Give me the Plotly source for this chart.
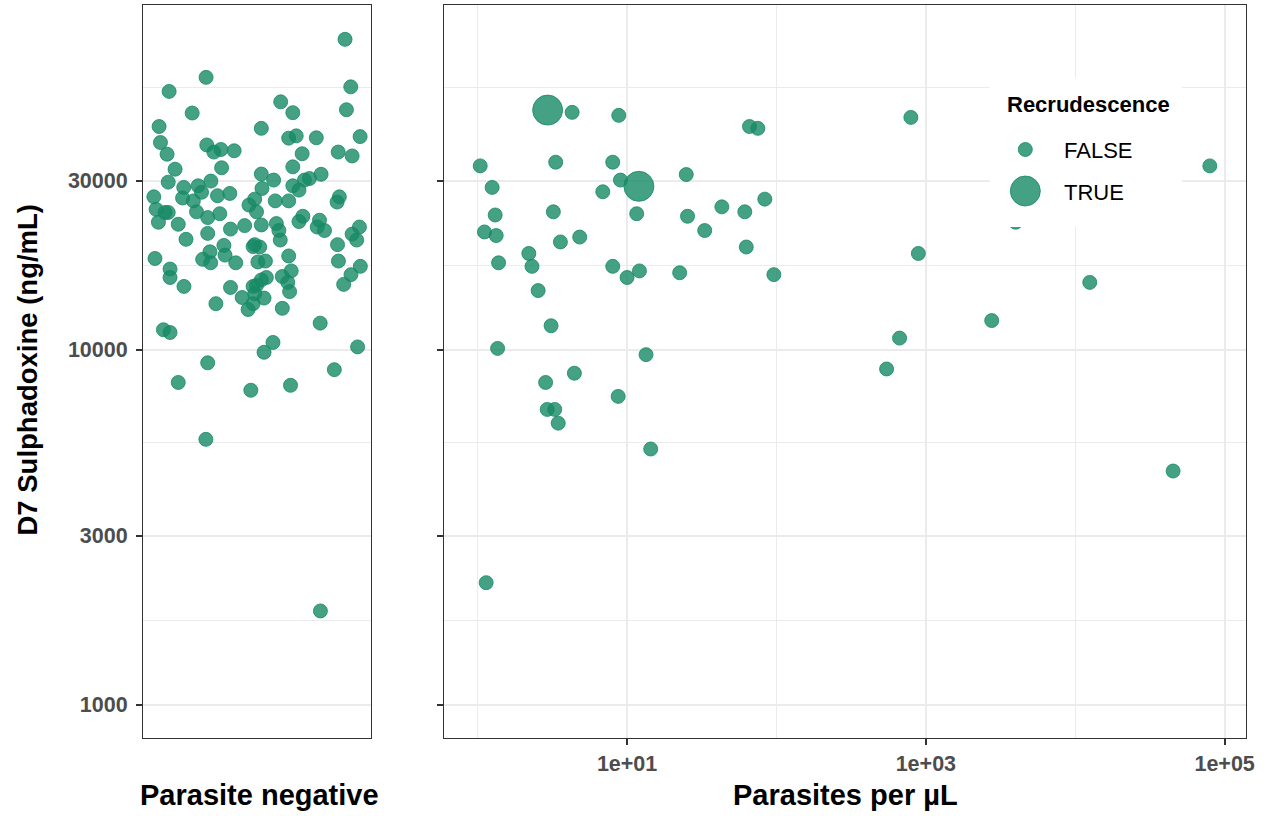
import math
import plotly.graph_objects as go

# ---------------- data ----------------
# Left panel: parasite-negative patients (horizontal jitter within category, D7 sulphadoxine ng/mL)
neg_jitter = [0.885, 0.276, 0.910, 0.114, 0.603, 0.656, 0.891, 0.215, 0.070, 0.518,
              0.638, 0.671, 0.759, 0.951, 0.076, 0.279, 0.310, 0.341, 0.399, 0.697,
              0.855, 0.916, 0.105, 0.140, 0.344, 0.656, 0.518, 0.572, 0.780, 0.729,
              0.707, 0.297, 0.110, 0.178, 0.241, 0.256, 0.380, 0.521, 0.656, 0.683,
              0.173, 0.220, 0.326, 0.047, 0.057, 0.096, 0.110, 0.234, 0.283, 0.336,
              0.067, 0.154, 0.489, 0.464, 0.497, 0.579, 0.638, 0.860, 0.850, 0.700,
              0.683, 0.773, 0.763, 0.795, 0.584, 0.595, 0.601, 0.518, 0.445, 0.383,
              0.283, 0.188, 0.948, 0.916, 0.936, 0.852, 0.489, 0.511, 0.482, 0.354,
              0.359, 0.293, 0.261, 0.296, 0.406, 0.638, 0.052, 0.503, 0.536, 0.856,
              0.952, 0.118, 0.118, 0.649, 0.610, 0.634, 0.642, 0.911, 0.879, 0.179,
              0.383, 0.540, 0.518, 0.497, 0.482, 0.489, 0.530, 0.434, 0.319, 0.482,
              0.460, 0.610, 0.776, 0.089, 0.118, 0.569, 0.530, 0.940, 0.283, 0.838,
              0.154, 0.472, 0.646, 0.275, 0.777]
neg_conc = [75000, 58600, 55100, 53500, 50000, 46600, 47500, 46500, 42600, 42100,
            39500, 40100, 39600, 39900, 38400, 37800, 36100, 36700, 36400, 35700,
            36100, 35200, 35600, 32300, 32600, 32800, 31300, 30100, 31250, 30400,
            30100, 29900, 29700, 28700, 29000, 27800, 27600, 28500, 29000, 28200,
            26800, 26300, 27200, 27000, 24900, 24400, 24400, 24500, 23600, 24200,
            22900, 22600, 26600, 25600, 24500, 26300, 26300, 27000, 26100, 23800,
            23000, 23200, 22200, 21700, 22700, 21700, 20400, 22500, 22400, 21900,
            21300, 20500, 22200, 21200, 20400, 19800, 19800, 19500, 19550, 19700,
            18500, 18900, 18000, 17600, 17600, 18400, 18100, 17700, 17800, 17800,
            17200, 16900, 16000, 16700, 16100, 15500, 14600, 16300, 15300, 15100,
            15000, 16000, 15750, 15200, 15100, 14400, 14000, 14050, 13500, 13500,
            13000, 13100, 11900, 11400, 11200, 10500, 9850, 10200, 9200, 8800,
            8100, 7700, 7950, 5600, 1840]

# Right panel: parasite-positive patients
pos_parasites_false = [4.29, 8.80, 1.04, 3.33, 8.02, 9.03, 24.9, 1.25, 6.88, 1.31,
                       3.21, 11.6, 25.4, 33.1, 1.11, 1.33, 3.58, 4.82, 2.20, 2.31,
                       1.38, 8.02, 10.0, 12.1, 22.5, 2.54, 3.10, 1.36, 13.4, 4.44,
                       2.85, 8.72, 2.92, 3.28, 3.46, 14.4, 1.14, 66.0, 75.1, 794,
                       83.6, 43.1, 61.4, 62.8, 96.1, 891, 3990, 12510, 2760, 667,
                       546, 45190, 79600]
pos_conc_false = [46700, 45800, 33000, 33800, 33800, 30100, 31200, 28700, 27900, 24000,
                  24500, 24200, 23800, 21700, 21500, 21000, 20150, 20800, 18700, 17200,
                  17600, 17200, 16000, 16700, 16500, 14700, 11700, 10100, 9700, 8600,
                  8100, 7400, 6800, 6800, 6220, 5260, 2210, 42600, 42100, 45200,
                  26600, 25300, 24500, 19500, 16300, 18700, 22900, 15500, 12100, 10800,
                  8840, 4560, 33000]
pos_parasites_true = [2.94, 12.0]
pos_conc_true = [47400, 28900]

y_breaks = [1000, 3000, 10000, 30000]
y_labels = ["1000", "3000", "10000", "30000"]
y_next_break = 100000
x_breaks = [10, 1000, 100000]
x_labels = ["1e+01", "1e+03", "1e+05"]
x_minor = [1, 100, 10000]
legend_title = "Recrudescence"
legend_labels = ["FALSE", "TRUE"]

# ---------------- styling ----------------
W, H = 1268, 816
W_EFF = 1258  # horizontal pixel frame used for placement
PT = "rgba(22,138,101,0.8)"
SIZE_FALSE, SIZE_TRUE = 14, 30
GRID = "#EBEBEB"
AXCOL = "#333333"
FAM = "Liberation Sans, Arial"
TICKFONT = dict(family=FAM, size=21.5, color="#4D4D4D", weight="bold")

def fx(p):
    return p / W_EFF

def fy(p):
    return 1 - p / H

ext = y_breaks + [y_next_break]
y_minor = [math.sqrt(a * b) for a, b in zip(ext[:-1], ext[1:])]

fig = go.Figure()
fig.add_trace(go.Scatter(
    x=neg_jitter, y=neg_conc, mode="markers", xaxis="x", yaxis="y",
    marker=dict(size=SIZE_FALSE, color=PT, line=dict(width=1, color=PT)),
    showlegend=False, hoverinfo="skip"))
fig.add_trace(go.Scatter(
    x=pos_parasites_false, y=pos_conc_false, mode="markers", xaxis="x2", yaxis="y2",
    marker=dict(size=SIZE_FALSE, color=PT, line=dict(width=1, color=PT)),
    showlegend=False, hoverinfo="skip"))
fig.add_trace(go.Scatter(
    x=pos_parasites_true, y=pos_conc_true, mode="markers", xaxis="x2", yaxis="y2",
    marker=dict(size=SIZE_TRUE, color=PT, line=dict(width=1, color=PT)),
    showlegend=False, hoverinfo="skip"))

yr = [math.log10(807), math.log10(93700)]
common_y = dict(type="log", range=yr, tickmode="array", tickvals=y_breaks,
                showgrid=True, gridcolor=GRID, gridwidth=2, zeroline=False,
                showline=True, mirror=True, linecolor=AXCOL, linewidth=1.2,
                ticks="outside", ticklen=6, tickwidth=1.5, tickcolor=AXCOL,
                minor=dict(tickmode="array", tickvals=y_minor, showgrid=True,
                           gridcolor=GRID, gridwidth=1, ticks=""),
                domain=[fy(738), fy(5)])

fig.update_layout(
    autosize=False, width=W, height=H, margin=dict(l=0, r=0, t=0, b=0, pad=0),
    paper_bgcolor="white", plot_bgcolor="white", showlegend=False,
    xaxis=dict(domain=[fx(143), fx(371)], range=[0, 1], showgrid=False, zeroline=False,
               showticklabels=False, ticks="", showline=True, mirror=True,
               linecolor=AXCOL, linewidth=1.2, anchor="y"),
    xaxis2=dict(domain=[fx(444), fx(1245)], type="log", range=[-0.223, 5.143],
                tickmode="array", tickvals=x_breaks, ticktext=x_labels,
                tickfont=TICKFONT, ticks="outside", ticklen=6, tickwidth=1.5,
                tickcolor=AXCOL, ticklabelstandoff=0,
                showgrid=True, gridcolor=GRID, gridwidth=2, zeroline=False,
                showline=True, mirror=True, linecolor=AXCOL, linewidth=1.2,
                minor=dict(tickmode="array", tickvals=x_minor, showgrid=True,
                           gridcolor=GRID, gridwidth=1, ticks=""),
                anchor="y2"),
    yaxis=dict(**common_y, ticktext=y_labels, tickfont=TICKFONT,
               ticklabelstandoff=4, anchor="x"),
    yaxis2=dict(**common_y, matches="y", showticklabels=False, anchor="x2"),
)

annotations = [
    dict(text="D7 Sulphadoxine (ng/mL)", x=fx(27.5), y=fy(370), textangle=-90,
         xanchor="center", yanchor="middle",
         font=dict(family=FAM, size=27.5, color="black", weight="bold")),
    dict(text="Parasite negative", x=fx(259), y=fy(795),
         xanchor="center", yanchor="middle",
         font=dict(family=FAM, size=29, color="black", weight="bold")),
    dict(text="Parasites per µL", x=fx(844.5), y=fy(795),
         xanchor="center", yanchor="middle",
         font=dict(family=FAM, size=29, color="black", weight="bold")),
    dict(text=legend_title, x=fx(1004), y=fy(104), xanchor="left", yanchor="middle",
         font=dict(family=FAM, size=22, color="black", weight="bold")),
    dict(text=legend_labels[0], x=fx(1061), y=fy(150), xanchor="left", yanchor="middle",
         font=dict(family=FAM, size=22, color="black")),
    dict(text=legend_labels[1], x=fx(1061), y=fy(192), xanchor="left", yanchor="middle",
         font=dict(family=FAM, size=22, color="black")),
]
for a in annotations:
    a.update(xref="paper", yref="paper", showarrow=False)
fig.update_layout(annotations=annotations)

shapes = [
    dict(type="rect", xref="paper", yref="paper", x0=fx(989), x1=fx(1181),
         y0=fy(227), y1=fy(78), fillcolor="white", line=dict(width=0), layer="above"),
]
for cy, d in [(149.5, SIZE_FALSE), (191, SIZE_TRUE)]:
    r = d / 2
    shapes.append(dict(type="circle", xref="paper", yref="paper",
                       xsizemode="pixel", ysizemode="pixel",
                       xanchor=fx(1024.5), yanchor=fy(cy),
                       x0=-r, x1=r, y0=-r, y1=r,
                       fillcolor=PT, line=dict(width=1, color=PT), layer="above"))
fig.update_layout(shapes=shapes)

fig.write_html("out.html", config={"displayModeBar": False, "responsive": False},
               post_script="document.body.style.margin='0';"
                           "document.body.style.overflow='hidden';"
                           "document.documentElement.style.overflow='hidden';")
